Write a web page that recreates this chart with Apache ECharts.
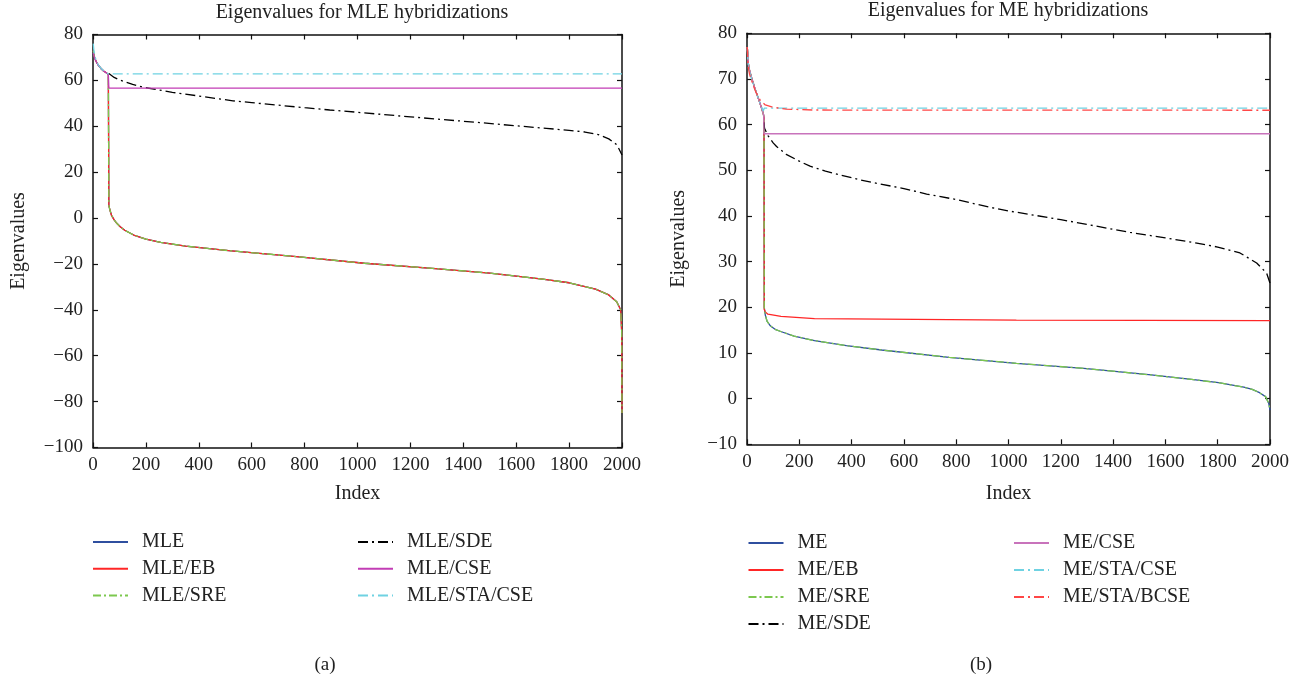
<!DOCTYPE html>
<html>
<head>
<meta charset="utf-8">
<script src="https://cdn.jsdelivr.net/npm/echarts@6/dist/echarts.min.js"></script>
<style>
	html,body{margin:0;padding:0;background:#fff;}
	#main{width:1309px;height:682px;}
</style>
</head>
<body>
<div id="main"></div>
<script>
	// (a) MLE hybridizations -- MLE, MLE/EB, MLE/SRE overlap
	var mleLowIdx = [1,3,6,10,15,20,30,40,50,58,60,64,70,80,90,103,120,154,200,256,350,513,769,1026,1282,1500,1700,1800,1900,1950,1980,1995,1999,2000];
	var mleLowVal = [73,71.5,70,68.8,67.6,66.6,65.2,64.1,63.3,62.6,5.5,3.5,1.2,-0.8,-2.3,-3.8,-5.3,-7.4,-9.2,-10.6,-12.2,-14.2,-16.8,-19.7,-21.9,-24,-26.6,-28.2,-31,-33.5,-36.5,-40,-50,-85];
	var mleSdeIdx = [60,80,100,150,189,300,400,529,600,800,895,1000,1200,1462,1600,1714,1800,1860,1910,1950,1981,2000];
	var mleSdeVal = [63,61.3,60.2,58.3,57,54.8,53.2,51.1,50.3,48.1,47.1,46.1,44.1,41.6,40.2,39.1,38.2,37.5,36.4,34.5,31.9,27.5];
	var mleCseIdx = [1,3,6,10,15,20,30,40,50,58,60,2000];
	var mleCseVal = [72,71,69.8,68.7,67.6,66.6,65.2,64.1,63.3,62.6,56.6,56.6];
	var mleStaIdx = [1,3,6,10,15,20,30,40,50,58,2000];
	var mleStaVal = [76,73.5,71.2,69.4,67.9,66.8,65.3,64.2,63.4,62.8,62.8];

	// (b) ME hybridizations -- ME, ME/SRE overlap
	var meIdx = [1,3,5,8,11,20,30,40,50,62,65,66,70,77,90,110,129,180,258,380,515,773,1030,1288,1546,1700,1803,1900,1932,1960,1983,1995,2000];
	var meVal = [77,75.5,73.5,72.3,71.6,69.8,68,66.3,64.6,62.5,61.5,20,18.3,16.9,15.9,15.1,14.7,13.7,12.7,11.6,10.65,9.05,7.74,6.64,5.18,4.2,3.5,2.5,2.04,1.3,0.44,-1,-2.5];
	var meEbIdx = [1,3,5,8,11,20,30,40,50,62,65,66,70,80,130,258,515,1030,2000];
	var meEbVal = [77,75.5,73.5,72.3,71.6,69.8,68,66.3,64.6,62.5,61.5,19.5,19,18.5,18,17.5,17.4,17.2,17.1];
	var meSdeIdx = [65,67,80,100,113,150,200,241,300,432,500,600,687,800,929,1000,1200,1465,1600,1720,1800,1885,1949,1987,2000];
	var meSdeVal = [60.5,59.2,57.6,56,55.2,53.5,52,50.9,49.8,47.9,47.1,46,44.8,43.6,41.9,41.1,39.2,36.4,35.2,34.05,33.2,31.9,29.7,27.5,25.3];
	var meCseIdx = [1,3,5,8,11,20,30,40,50,62,64,65,2000];
	var meCseVal = [77,75.5,73.5,72.3,71.6,69.8,68,66.3,64.6,62.5,62,58,58];
	var meStaIdx = [1,3,5,8,11,20,30,40,50,62,66,2000];
	var meStaVal = [76.5,75,73.2,72,71.3,69.6,67.9,66.3,64.7,63,63.6,63.6];
	var meBcseIdx = [1,3,5,10,23,35,50,70,100,150,250,2000];
	var meBcseVal = [77,74,72.5,71,68.7,67,65.4,64.3,63.8,63.4,63.2,63.15];

	var FONT = "Liberation Serif";
	var dashDot = [10,4,2,4];

	function pairs(xs, ys){
		return xs.map(function(x, i){ return [x, ys[i]]; });
	}

	function line(name, xs, ys, color, type, side){
		return {
			name:name, type:'line', data:pairs(xs, ys),
			xAxisIndex:side*2, yAxisIndex:side*2,
			symbol:'none', showSymbol:false, silent:true, animation:false,
			lineStyle:{color:color, width:1.3, type:type},
			itemStyle:{color:color}
		};
	}

	function plain(v){ return String(v).replace('-', '\u2212'); }

	function xAx(grid, top){
		return {
			gridIndex:grid, type:'value', min:0, max:2000, interval:200,
			position: top ? 'top' : 'bottom',
			name: top ? '' : 'Index', nameLocation:'middle', nameGap: grid ? 39 : 36,
			nameTextStyle:{fontFamily:FONT, fontSize:20, color:'#222'},
			axisLine:{onZero:false, lineStyle:{color:'#111', width:1.5}},
			axisTick:{inside:true, length:5, lineStyle:{color:'#111', width:1.2}},
			axisLabel:{show:!top, margin:8, fontFamily:FONT, fontSize:19, color:'#222', formatter:plain},
			splitLine:{show:false}
		};
	}

	function yAx(grid, right, min, max, step, gap){
		return {
			gridIndex:grid, type:'value', min:min, max:max, interval:step,
			position: right ? 'right' : 'left',
			name: right ? '' : 'Eigenvalues', nameLocation:'middle', nameGap:gap,
			nameTextStyle:{fontFamily:FONT, fontSize:20, color:'#222'},
			axisLine:{onZero:false, lineStyle:{color:'#111', width:1.5}},
			axisTick:{inside:true, length:5, lineStyle:{color:'#111', width:1.2}},
			axisLabel:{show:!right, margin:10, fontFamily:FONT, fontSize:19, color:'#222', formatter:plain},
			splitLine:{show:false}
		};
	}

	function legend(left, top, gap, names){
		return {
			orient:'vertical', left:left, top:top, padding:0,
			itemWidth:35, itemHeight:14, itemGap:gap, selectedMode:false,
			itemStyle:{opacity:0},
			data:names,
			textStyle:{fontFamily:FONT, fontSize:20, color:'#222', lineHeight:20, padding:[0,0,0,9]}
		};
	}

	function label(text, x, y, size){
		return {type:'text', x:x, y:y, silent:true,
			style:{text:text, fill:'#222', font:size+'px "'+FONT+'"', textAlign:'center', textVerticalAlign:'middle'}};
	}

	var myChart = echarts.init(document.getElementById('main'), null, {renderer:'canvas'});

	var option = {
		backgroundColor:'#fff',
		animation:false,
		grid:[
			{left:93, top:34.5, width:529, height:413, outerBoundsMode:'none'},
			{left:747, top:33.3, width:523, height:411, outerBoundsMode:'none'}
		],
		xAxis:[xAx(0,false), xAx(0,true), xAx(1,false), xAx(1,true)],
		yAxis:[
			yAx(0,false,-100,80,20,64), yAx(0,true,-100,80,20,0),
			yAx(1,false,-10,80,10,58), yAx(1,true,-10,80,10,0)
		],
		legend:[
			legend(92, 532, 6.7, ['MLE','MLE/EB','MLE/SRE']),
			legend(357, 532, 6.7, ['MLE/SDE','MLE/CSE','MLE/STA/CSE']),
			legend(747.5, 533, 7, ['ME','ME/EB','ME/SRE','ME/SDE']),
			legend(1013, 533, 7, ['ME/CSE','ME/STA/CSE','ME/STA/BCSE'])
		],
		graphic:[
			label('Eigenvalues for MLE hybridizations', 362, 13, 20),
			label('Eigenvalues for ME hybridizations', 1008, 11, 20),
			label('(a)', 325, 665, 19),
			label('(b)', 981, 665, 19)
		],
		series:[
			line('MLE', mleLowIdx, mleLowVal, '#2f4f9f', 'solid', 0),
			line('MLE/EB', mleLowIdx, mleLowVal, '#ff2626', 'solid', 0),
			line('MLE/SRE', mleLowIdx, mleLowVal, '#7cc84e', [8,3,2,3], 0),
			line('MLE/SDE', mleSdeIdx, mleSdeVal, '#000000', dashDot, 0),
			line('MLE/CSE', mleCseIdx, mleCseVal, '#c23db5', 'solid', 0),
			line('MLE/STA/CSE', mleStaIdx, mleStaVal, '#6fd2e2', dashDot, 0),

			line('ME', meIdx, meVal, '#2f4f9f', 'solid', 1),
			line('ME/EB', meEbIdx, meEbVal, '#ff2626', 'solid', 1),
			line('ME/SRE', meIdx, meVal, '#7cc84e', [8,3,2,3], 1),
			line('ME/SDE', meSdeIdx, meSdeVal, '#000000', dashDot, 1),
			line('ME/CSE', meCseIdx, meCseVal, '#c873bb', 'solid', 1),
			line('ME/STA/CSE', meStaIdx, meStaVal, '#6fd2e2', dashDot, 1),
			line('ME/STA/BCSE', meBcseIdx, meBcseVal, '#ff4646', dashDot, 1)
		]
	};

	myChart.setOption(option);
</script>
</body>
</html>
